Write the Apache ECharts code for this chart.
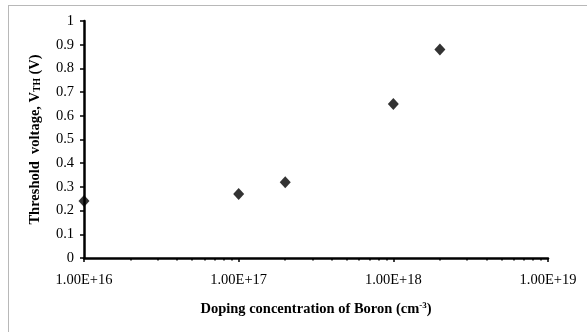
<!DOCTYPE html>
<html>
<head>
<meta charset="utf-8">
<script src="https://cdn.jsdelivr.net/npm/echarts@6/dist/echarts.min.js"></script>
<style>
    html, body { margin: 0; padding: 0; background: #fff; }
    #frame {
        position: absolute; left: 8px; top: 5px; width: 600px; height: 340px;
        border-top: 1.5px solid #b8b8b8; border-left: 1.5px solid #b8b8b8;
    }
    #chart { position: absolute; left: 0; top: 0; width: 587px; height: 332px; }
</style>
</head>
<body>
<div id="frame"></div>
<div id="chart"></div>
<script>
// 硼掺杂浓度 (cm^-3)
var doping = [1e16, 1e17, 2e17, 1e18, 2e18];
// 阈值电压 (V)
var vth = [0.24, 0.27, 0.32, 0.65, 0.88];
// x轴次刻度 (对数)
var minorTicks = [];
[1e16, 1e17, 1e18].forEach(function (d) {
    for (var k = 2; k <= 9; k++) minorTicks.push(k * d);
});

var font = 'Liberation Serif, Times New Roman, serif';

function sciLabel(v) {
    var e = Math.floor(Math.log10(v) + 1e-9);
    var m = v / Math.pow(10, e);
    return m.toFixed(2) + 'E+' + e;
}

var points = [];
for (var i = 0; i < doping.length; i++) {
    points.push([doping[i], vth[i]]);
}

var chart = echarts.init(document.getElementById('chart'));
chart.setOption({
    animation: false,
    grid: { left: 84, right: 39, top: 21, bottom: 74 },
    xAxis: [
        {
            type: 'log',
            logBase: 10,
            min: 1e16,
            max: 1e19,
            position: 'bottom',
            name: 'Doping concentration of Boron (cm{sup|-3})',
            nameLocation: 'middle',
            nameGap: 43,
            nameTextStyle: {
                fontFamily: font, fontSize: 14.5, fontWeight: 'bold', color: '#000',
                rich: {
                    sup: { fontFamily: font, fontSize: 9, fontWeight: 'bold', color: '#000', padding: [0, 0, 8, 0] }
                }
            },
            axisLine: { lineStyle: { color: '#000', width: 2.5 } },
            axisTick: { length: 4, lineStyle: { color: '#000', width: 1.5 } },
            axisLabel: {
                margin: 15,
                fontFamily: font, fontSize: 14.5, color: '#000',
                formatter: sciLabel
            },
            splitLine: { show: false },
            minorTick: { show: false }
        },
        {
            type: 'log',
            logBase: 10,
            min: 1e16,
            max: 1e19,
            position: 'bottom',
            axisLine: { show: false },
            axisTick: { show: true, length: 2.5, customValues: minorTicks, lineStyle: { color: '#000', width: 1.5 } },
            axisLabel: { show: false },
            splitLine: { show: false }
        }
    ],
    yAxis: {
        type: 'value',
        min: 0,
        max: 1,
        interval: 0.1,
        name: 'Threshold  voltage, V{sub|TH} (V)',
        nameLocation: 'middle',
        nameGap: 41,
        nameTextStyle: {
            fontFamily: font, fontSize: 14.5, fontWeight: 'bold', color: '#000',
            rich: {
                sub: { fontFamily: font, fontSize: 9.5, fontWeight: 'bold', color: '#000', padding: [6, 0, 0, 0] }
            }
        },
        axisLine: { show: true, lineStyle: { color: '#000', width: 2.5 } },
        axisTick: { show: true, length: 4, lineStyle: { color: '#000', width: 1.5 } },
        axisLabel: {
            margin: 10,
            fontFamily: font, fontSize: 14.5, color: '#000',
            formatter: function (v) { return String(Math.round(v * 10) / 10); }
        },
        splitLine: { show: false }
    },
    series: [
        {
            type: 'scatter',
            xAxisIndex: 0,
            data: points,
            symbol: 'diamond',
            symbolSize: [11, 12],
            itemStyle: { color: '#000' }
        }
    ]
});
</script>
</body>
</html>
